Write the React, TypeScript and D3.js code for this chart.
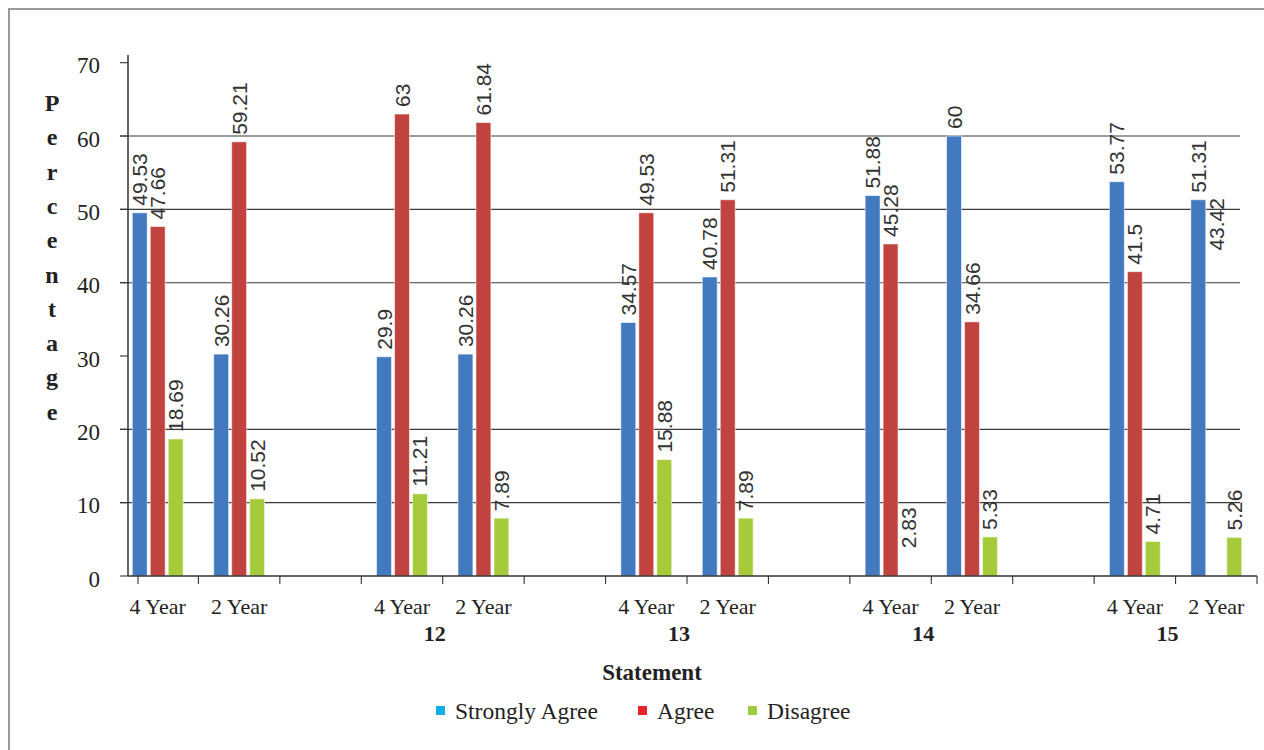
import * as d3 from 'd3';

// chart data
const statements = ['', '12', '13', '14', '15'];
const years = ['4 Year', '2 Year'];
const seriesNames = ['Strongly Agree', 'Agree', 'Disagree'];
// one value per (statement, year), in order
const stronglyAgree = [49.53, 30.26, 29.9, 30.26, 34.57, 40.78, 51.88, 60, 53.77, 51.31];
const agree = [47.66, 59.21, 63, 61.84, 49.53, 51.31, 45.28, 34.66, 41.5, 43.42];
const disagree = [18.69, 10.52, 11.21, 7.89, 15.88, 7.89, 2.83, 5.33, 4.71, 5.26];
// bars that the source leaves out (only the label is printed)
const missingBars = [
  { series: 'Disagree', index: 6 },
  { series: 'Agree', index: 9 },
];
const yTicks = [0, 10, 20, 30, 40, 50, 60, 70];
const gridValues = [10, 20, 40, 50, 60];

const barColors = ['#4279bf', '#c0433f', '#a6cb3a'];
const legendColors = ['#12aee8', '#e8232b', '#9fcb3f'];

const serif = '"Liberation Serif", "Times New Roman", serif';
const sans = '"Liberation Sans", Arial, sans-serif';

export default function App() {
  const width = 1264;
  const height = 750;
  const axisX = 128;
  const baseY = 576;

  const values = [stronglyAgree, agree, disagree];

  const y = d3.scaleLinear().domain([0, 70]).range([baseY, 62.7]);
  const xGroup = d3.scaleBand().domain(statements).range([117, 1257]).paddingInner(1 / 3).paddingOuter(0);
  const xYear = d3.scaleBand().domain(years).range([0, xGroup.bandwidth()]);
  const xSeries = d3.scaleBand().domain(seriesNames).range([0, xYear.bandwidth()]).paddingInner(0.17).paddingOuter(0.85);

  const bars: { key: string; x: number; v: number; color: string; hidden: boolean }[] = [];
  statements.forEach((st, gi) => {
    years.forEach((yr, yi) => {
      const idx = gi * 2 + yi;
      seriesNames.forEach((s, si) => {
        const x = (xGroup(st) ?? 0) + (xYear(yr) ?? 0) + (xSeries(s) ?? 0);
        const hidden = missingBars.some((m) => m.series === s && m.index === idx);
        bars.push({ key: st + yr + s, x, v: values[si][idx], color: barColors[si], hidden });
      });
    });
  });

  // category boundaries: start, middle and end of every statement group
  const xTicks: number[] = [];
  statements.forEach((st) => {
    const g0 = xGroup(st) ?? 0;
    xTicks.push(Math.max(g0, axisX + 10), g0 + xGroup.bandwidth() / 2, g0 + xGroup.bandwidth());
  });

  const bw = xSeries.bandwidth();
  const yTitle = 'Percentage'.split('');
  const legendX = [436, 638, 748];

  return (
    <svg width={width} height={height} style={{ position: 'absolute', left: 0, top: 0, background: '#fff' }}>
      {/* outer frame */}
      <rect x={9} y={9} width={1270} height={760} fill="none" stroke="#9a9a9a" strokeWidth={2} />

      {/* gridlines */}
      {gridValues.map((v) => (
        <line key={'g' + v} x1={axisX - 8} x2={1240} y1={y(v)} y2={y(v)} stroke="#3a3a3a" strokeWidth={1.1} />
      ))}

      {/* bars */}
      {bars.filter((b) => !b.hidden).map((b) => (
        <rect key={b.key} x={b.x} y={y(b.v)} width={bw} height={baseY - y(b.v)} fill={b.color} stroke="rgba(255,255,255,0.55)" strokeWidth={1} />
      ))}

      {/* data labels */}
      {bars.map((b) => (
        <text key={'l' + b.key} transform={`translate(${b.x + bw / 2},${y(b.v) - 7}) rotate(-90)`} textAnchor="start" dominantBaseline="central" fontFamily={sans} fontSize={21} fill="#333">
          {b.v}
        </text>
      ))}

      {/* y axis */}
      <line x1={axisX} x2={axisX} y1={55} y2={baseY} stroke="#333" strokeWidth={1.5} />
      {yTicks.map((v) => (
        <g key={'yt' + v}>
          <line x1={axisX - 8} x2={axisX} y1={y(v)} y2={y(v)} stroke="#333" strokeWidth={1.1} />
          <text x={100} y={y(v) + 3} textAnchor="end" dominantBaseline="central" fontFamily={serif} fontSize={23} fill="#222">
            {v}
          </text>
        </g>
      ))}
      {yTitle.map((ch, i) => (
        <text key={'yl' + i} x={52} y={103 + i * 34.3} textAnchor="middle" dominantBaseline="central" fontFamily={serif} fontWeight="bold" fontSize={24} fill="#222">
          {ch}
        </text>
      ))}

      {/* x axis */}
      <line x1={axisX} x2={1257} y1={baseY} y2={baseY} stroke="#333" strokeWidth={1.5} />
      {xTicks.map((t, i) => (
        <line key={'xt' + i} x1={t} x2={t} y1={baseY} y2={baseY + 8} stroke="#333" strokeWidth={1.1} />
      ))}
      {statements.map((st) =>
        years.map((yr) => (
          <text key={'yr' + st + yr} x={(xGroup(st) ?? 0) + (xYear(yr) ?? 0) + xYear.bandwidth() / 2} y={606} textAnchor="middle" dominantBaseline="central" fontFamily={serif} fontSize={22} fill="#222">
            {yr}
          </text>
        ))
      )}
      {statements.map((st) => (
        <text key={'st' + st} x={(xGroup(st) ?? 0) + xGroup.bandwidth() / 2 - 8} y={633} textAnchor="middle" dominantBaseline="central" fontFamily={serif} fontWeight="bold" fontSize={22} fill="#222">
          {st}
        </text>
      ))}
      <text x={652} y={672} textAnchor="middle" dominantBaseline="central" fontFamily={serif} fontWeight="bold" fontSize={23} fill="#222">
        Statement
      </text>

      {/* legend */}
      {seriesNames.map((s, i) => (
        <g key={'lg' + s}>
          <rect x={legendX[i]} y={706} width={9} height={9} fill={legendColors[i]} />
          <text x={legendX[i] + 19} y={711} dominantBaseline="central" fontFamily={serif} fontSize={23.5} fill="#222">
            {s}
          </text>
        </g>
      ))}
    </svg>
  );
}
